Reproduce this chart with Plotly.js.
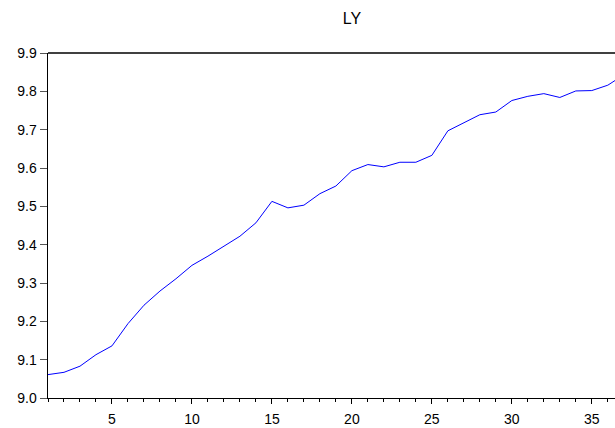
<!DOCTYPE html>
<html>
<head>
<meta charset="utf-8">
<script src="https://cdn.plot.ly/plotly-3.0.1.min.js"></script>
<style>html,body{margin:0;padding:0;background:#fff;}#chart{width:615px;height:428px;}</style>
</head>
<body>
<div id="chart"></div>
<script>
var periods = [];
for (var i = 1; i <= 37; i++) periods.push(i);
var ly = [9.061, 9.067, 9.083, 9.113, 9.136, 9.194, 9.242, 9.279, 9.311, 9.346,
          9.370, 9.397, 9.422, 9.457, 9.513, 9.496, 9.503, 9.533, 9.553, 9.593,
          9.609, 9.603, 9.615, 9.615, 9.633, 9.697, 9.717, 9.739, 9.746, 9.776,
          9.787, 9.794, 9.784, 9.801, 9.802, 9.816, 9.843];
var yTicks = [9.0, 9.1, 9.2, 9.3, 9.4, 9.5, 9.6, 9.7, 9.8, 9.9];
var yTickLabels = ['9.0', '9.1', '9.2', '9.3', '9.4', '9.5', '9.6', '9.7', '9.8', '9.9'];

var trace = {
  x: periods, y: ly, type: 'scatter', mode: 'lines',
  line: {color: '#0000ff', width: 1},
  hoverinfo: 'none'
};
var layout = {
  width: 615, height: 428,
  margin: {l: 48, r: 0, t: 53, b: 30, pad: 0},
  paper_bgcolor: '#fff', plot_bgcolor: '#fff',
  font: {family: 'Liberation Sans, Arial, sans-serif', size: 14, color: '#000'},
  title: {text: 'LY', x: 0.536, xref: 'paper', xanchor: 'center', y: 0.957, yref: 'container', yanchor: 'middle', font: {size: 16}},
  showlegend: false,
  xaxis: {
    range: [1, 36.45], showgrid: false, zeroline: false,
    showline: true, linecolor: '#000', linewidth: 1, mirror: false,
    ticks: 'outside', ticklen: 5, tickcolor: '#000', tickwidth: 1,
    tick0: 5, dtick: 5, ticklabelstandoff: 3,
    minor: {dtick: 1, tick0: 0, ticks: 'outside', ticklen: 3, tickcolor: '#000', showgrid: false},
    tickfont: {size: 14}
  },
  yaxis: {
    range: [9.0, 9.9], showgrid: false, zeroline: false,
    showline: true, linecolor: '#000', linewidth: 1.5, mirror: false,
    ticks: 'outside', ticklen: 7, tickcolor: '#555', tickwidth: 1,
    tickvals: yTicks, ticktext: yTickLabels,
    tickfont: {size: 14}
  },
  shapes: [{type: 'line', xref: 'paper', yref: 'paper', x0: 0, x1: 1, y0: 1, y1: 1, line: {color: '#000', width: 1.5}}]
};
Plotly.newPlot('chart', [trace], layout, {staticPlot: true, displayModeBar: false});
</script>
</body>
</html>
